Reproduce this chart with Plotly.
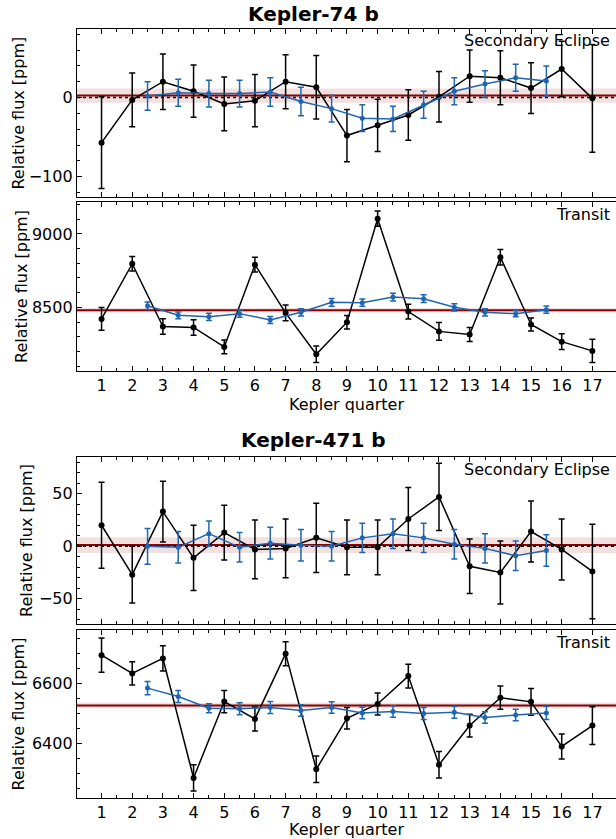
import plotly.graph_objects as go

# ---------------- data ----------------
quarters = [1, 2, 3, 4, 5, 6, 7, 8, 9, 10, 11, 12, 13, 14, 15, 16, 17]
half_quarters = [2.5, 3.5, 4.5, 5.5, 6.5, 7.5, 8.5, 9.5, 10.5, 11.5, 12.5, 13.5, 14.5, 15.5]
quarter_labels = [str(q) for q in quarters]

# Kepler-74 b, secondary eclipse
k74_se_black = [-57, -3, 20, 8, -8, -4, 20, 13, -48, -35, -22, 1, 27, 25, 12, 36, -1]
k74_se_black_err = [58, 34, 35, 33, 34, 33, 34, 40, 33, 33, 32, 32, 33, 34, 32, 35, 68]
k74_se_blue = [2, 6, 5, 5, 7, -5, -14, -26, -27, -9, 8, 17, 25, 21]
k74_se_blue_err = [18, 17, 17, 17, 18, 18, 17, 17, 16, 17, 17, 17, 17, 19]

# Kepler-74 b, transit
k74_tr_black = [8421, 8797, 8369, 8363, 8230, 8791, 8462, 8180, 8399, 9104, 8471, 8336, 8315, 8842, 8383, 8266, 8203]
k74_tr_black_err = [77, 50, 53, 53, 47, 50, 54, 56, 46, 52, 50, 60, 48, 53, 44, 54, 79]
k74_tr_blue = [8511, 8446, 8435, 8457, 8414, 8466, 8534, 8532, 8570, 8559, 8500, 8466, 8457, 8484]
k74_tr_blue_err = [26, 23, 24, 24, 24, 25, 27, 25, 26, 26, 25, 25, 22, 25]

# Kepler-471 b, secondary eclipse
k471_se_black = [20, -27, 33, -11, 13, -3, -2, 8, -1, -1, 26, 47, -19, -25, 14, -3, -24]
k471_se_black_err = [41, 27, 29, 31, 26, 28, 28, 33, 26, 26, 30, 32, 26, 30, 29, 29, 45]
k471_se_blue = [0, -1, 12, -1, 3, 1, 0, 8, 12, 8, 2, -2, -9, -4]
k471_se_blue_err = [17, 15, 12, 14, 15, 15, 14, 14, 14, 14, 14, 14, 14, 15]

# Kepler-471 b, transit
k471_tr_black = [6694, 6633, 6683, 6284, 6539, 6481, 6699, 6313, 6483, 6531, 6624, 6328, 6459, 6552, 6538, 6389, 6459]
k471_tr_black_err = [57, 39, 42, 44, 37, 40, 40, 44, 36, 37, 40, 44, 38, 39, 45, 42, 63]
k471_tr_blue = [6584, 6556, 6517, 6515, 6519, 6509, 6519, 6501, 6506, 6499, 6503, 6486, 6494, 6501]
k471_tr_blue_err = [22, 20, 15, 20, 20, 19, 19, 19, 19, 20, 20, 19, 19, 22]

# reference levels (value, half-width of band)
k74_se_level, k74_se_band = 2.5, 9
k74_tr_level, k74_tr_band = 8480, 15
k471_se_level, k471_se_band = 1.2, 7.5
k471_tr_level, k471_tr_band = 6526, 9

panel_titles = ["Kepler-74 b", "Kepler-471 b"]
panel_tags = ["Secondary Eclipse", "Transit", "Secondary Eclipse", "Transit"]
ylabel = "Relative flux [ppm]"
xlabel = "Kepler quarter"

# ---------------- styling ----------------
FONT = "DejaVu Sans"
BLACK = "#000000"
BLUE = "#1f65b0"
RED = "#8b0000"
W, H = 616, 839
ML, MR, MT, MB = 77, 0, 29, 41
PH = H - MT - MB


def py(p):
    """pixel row -> paper y"""
    return (H - MB - p) / PH


def px(p):
    return (p - ML) / (W - ML - MR)


domains = [
    [py(197.3), 1.0],
    [py(370.7), py(202.3)],
    [py(624.3), py(456.7)],
    [0.0, py(630)],
]
yranges = [[-126, 86.6], [8068, 9216], [-74.3, 85.3], [6217, 6778]]
ydticks = [100, 500, 50, 200]
yminor = [20, 100, 10, 50]
ystandoff = [0, 0, 2, 3]

panels = [
    (k74_se_black, k74_se_black_err, k74_se_blue, k74_se_blue_err, k74_se_level, k74_se_band, True),
    (k74_tr_black, k74_tr_black_err, k74_tr_blue, k74_tr_blue_err, k74_tr_level, k74_tr_band, False),
    (k471_se_black, k471_se_black_err, k471_se_blue, k471_se_blue_err, k471_se_level, k471_se_band, True),
    (k471_tr_black, k471_tr_black_err, k471_tr_blue, k471_tr_blue_err, k471_tr_level, k471_tr_band, False),
]

fig = go.Figure()
shapes = []
layout = {}
for i, (bk, bke, bl, ble, lev, band, zero_line) in enumerate(panels):
    n = i + 1
    xa = "x" if n == 1 else f"x{n}"
    ya = "y" if n == 1 else f"y{n}"
    fig.add_trace(go.Scatter(
        x=quarters, y=bk, xaxis=xa, yaxis=ya, mode="lines+markers",
        line=dict(color=BLACK, width=1.5), marker=dict(color=BLACK, size=6),
        error_y=dict(type="data", array=bke, color=BLACK, thickness=1.5, width=3),
        showlegend=False, hoverinfo="x+y"))
    fig.add_trace(go.Scatter(
        x=half_quarters, y=bl, xaxis=xa, yaxis=ya, mode="lines+markers",
        line=dict(color=BLUE, width=1.5), marker=dict(color=BLUE, size=5),
        error_y=dict(type="data", array=ble, color=BLUE, thickness=1.5, width=3),
        showlegend=False, hoverinfo="x+y"))
    shapes.append(dict(type="rect", xref=f"{xa} domain", yref=ya, x0=0, x1=1,
                       y0=lev - band, y1=lev + band, fillcolor="rgba(139,0,0,0.12)",
                       line=dict(width=0), layer="below"))
    shapes.append(dict(type="line", xref=f"{xa} domain", yref=ya, x0=0, x1=1,
                       y0=lev, y1=lev, line=dict(color=RED, width=2), layer="below"))
    if zero_line:
        shapes.append(dict(type="line", xref=f"{xa} domain", yref=ya, x0=0, x1=1,
                           y0=0, y1=0, line=dict(color=BLACK, width=1.5, dash="dot"), layer="below"))
    show_x = (n % 2 == 0)
    xkey = "xaxis" if n == 1 else f"xaxis{n}"
    ykey = "yaxis" if n == 1 else f"yaxis{n}"
    layout[xkey] = dict(
        domain=[0, 1], anchor=ya, range=[0.2, 17.77],
        tickmode="array", tickvals=quarters, ticktext=quarter_labels,
        showticklabels=show_x, ticks="inside", ticklen=5, tickwidth=1, tickcolor=BLACK,
        minor=dict(ticks="inside", ticklen=3, tickvals=half_quarters + [1.5], tickcolor=BLACK),
        showline=True, linecolor=BLACK, linewidth=1.3, mirror="ticks",
        showgrid=False, zeroline=False,
        tickfont=dict(family=FONT, size=16, color=BLACK),
        title=dict(text=xlabel if show_x else "", font=dict(family=FONT, size=16, color=BLACK), standoff=4),
    )
    layout[ykey] = dict(
        domain=domains[i], anchor=xa, range=yranges[i],
        tickmode="linear", tick0=0, dtick=ydticks[i],
        ticks="inside", ticklen=5, tickwidth=1, tickcolor=BLACK,
        minor=dict(ticks="inside", ticklen=3, dtick=yminor[i], tick0=0, tickcolor=BLACK),
        showline=True, linecolor=BLACK, linewidth=1.3, mirror=False,
        showgrid=False, zeroline=False,
        tickfont=dict(family=FONT, size=16, color=BLACK),
        title=dict(text=ylabel, font=dict(family=FONT, size=16, color=BLACK), standoff=ystandoff[i]),
    )

annotations = [
    dict(text=f"<b>{panel_titles[0]}</b>", x=px(313), y=py(14), xref="paper", yref="paper",
         showarrow=False, font=dict(family=FONT, size=20, color=BLACK), xanchor="center", yanchor="middle"),
    dict(text=f"<b>{panel_titles[1]}</b>", x=px(313), y=py(440), xref="paper", yref="paper",
         showarrow=False, font=dict(family=FONT, size=20, color=BLACK), xanchor="center", yanchor="middle"),
]
tag_rows = [41, 214, 469, 642]
for tag, row in zip(panel_tags, tag_rows):
    annotations.append(dict(text=tag, x=px(611.5), y=py(row), xref="paper", yref="paper",
                            showarrow=False, font=dict(family=FONT, size=16, color=BLACK),
                            xanchor="right", yanchor="middle"))

fig.update_layout(
    width=W, height=H,
    margin=dict(l=ML, r=MR, t=MT, b=MB, autoexpand=False),
    paper_bgcolor="white", plot_bgcolor="white",
    font=dict(family=FONT, size=16, color=BLACK),
    shapes=shapes, annotations=annotations,
    **layout,
)

fig.write_html(
    "out.html",
    config={"displayModeBar": False},
    post_script="document.body.style.margin='0';document.body.style.overflow='hidden';",
)
